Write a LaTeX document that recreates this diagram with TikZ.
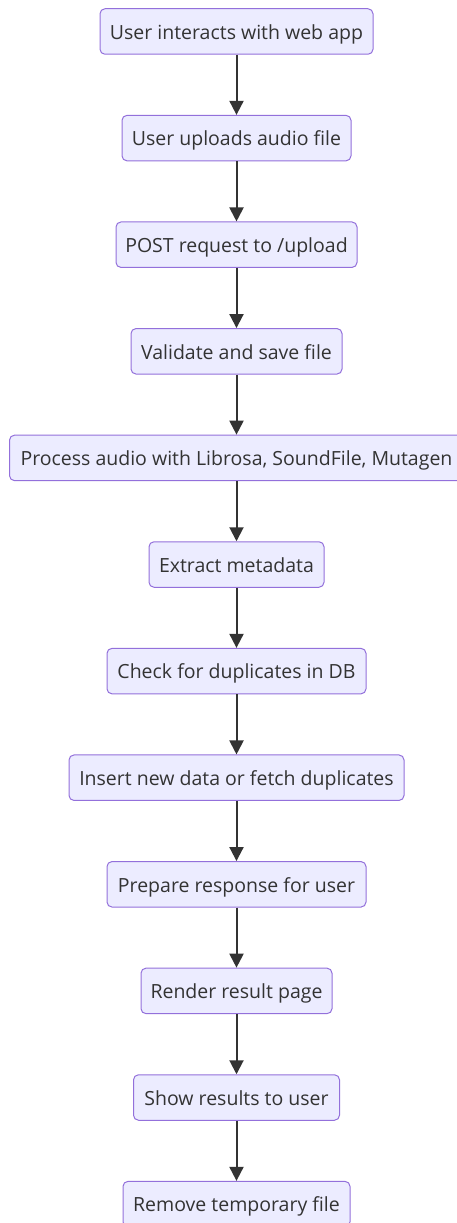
\documentclass[tikz,border=0pt]{standalone}
\usepackage{fontspec}
\setmainfont{Open Sans}
\usetikzlibrary{arrows.meta}
\definecolor{boxfill}{HTML}{ECECFF}
\definecolor{boxdraw}{HTML}{9370DB}
\definecolor{ink}{HTML}{333333}
\begin{document}
\begin{tikzpicture}[x=1pt,y=-1pt,
  stepbox/.style={draw=boxdraw, fill=boxfill, line width=1pt, rounded corners=5pt,
    minimum height=45.5pt, inner sep=0pt, text height=15.4pt, text depth=0pt,
    text=ink, font=\fontsize{19.5}{23}\selectfont},
  flow/.style={draw=ink, line width=2pt, -{Triangle[length=14pt,width=14pt]}}]
\useasboundingbox (0,0) rectangle (457,1223);
\clip (0,0) rectangle (457,1223);
\def\dy{106.6}
\node[stepbox, minimum width=273pt] (n1) at (236.5, 31.5) {User interacts with web app};
\node[stepbox, minimum width=229pt] (n2) at (236.5, 31.5+\dy) {User uploads audio file};
\node[stepbox, minimum width=241pt] (n3) at (236.5, 31.5+2*\dy) {POST request to /upload};
\node[stepbox, minimum width=211pt] (n4) at (236.5, 31.5+3*\dy) {Validate and save file};
\node[stepbox, minimum width=454pt] (n5) at (236.5, 31.5+4*\dy) {Process audio with Librosa, SoundFile, Mutagen};
\node[stepbox, minimum width=175pt] (n6) at (236.5, 31.5+5*\dy) {Extract metadata};
\node[stepbox, minimum width=259pt] (n7) at (236.5, 31.5+6*\dy) {Check for duplicates in DB};
\node[stepbox, minimum width=335pt] (n8) at (236.5, 31.5+7*\dy) {Insert new data or fetch duplicates};
\node[stepbox, minimum width=259pt] (n9) at (236.5, 31.5+8*\dy) {Prepare response for user};
\node[stepbox, minimum width=191pt] (n10) at (236.5, 31.5+9*\dy) {Render result page};
\node[stepbox, minimum width=206pt] (n11) at (236.5, 31.5+10*\dy) {Show results to user};
\node[stepbox, minimum width=227pt] (n12) at (236.5, 31.5+11*\dy) {Remove temporary file};
\foreach \a/\b in {n1/n2,n2/n3,n3/n4,n4/n5,n5/n6,n6/n7,n7/n8,n8/n9,n9/n10,n10/n11,n11/n12}
  \draw[flow] (\a) -- (\b);
\end{tikzpicture}
\end{document}
